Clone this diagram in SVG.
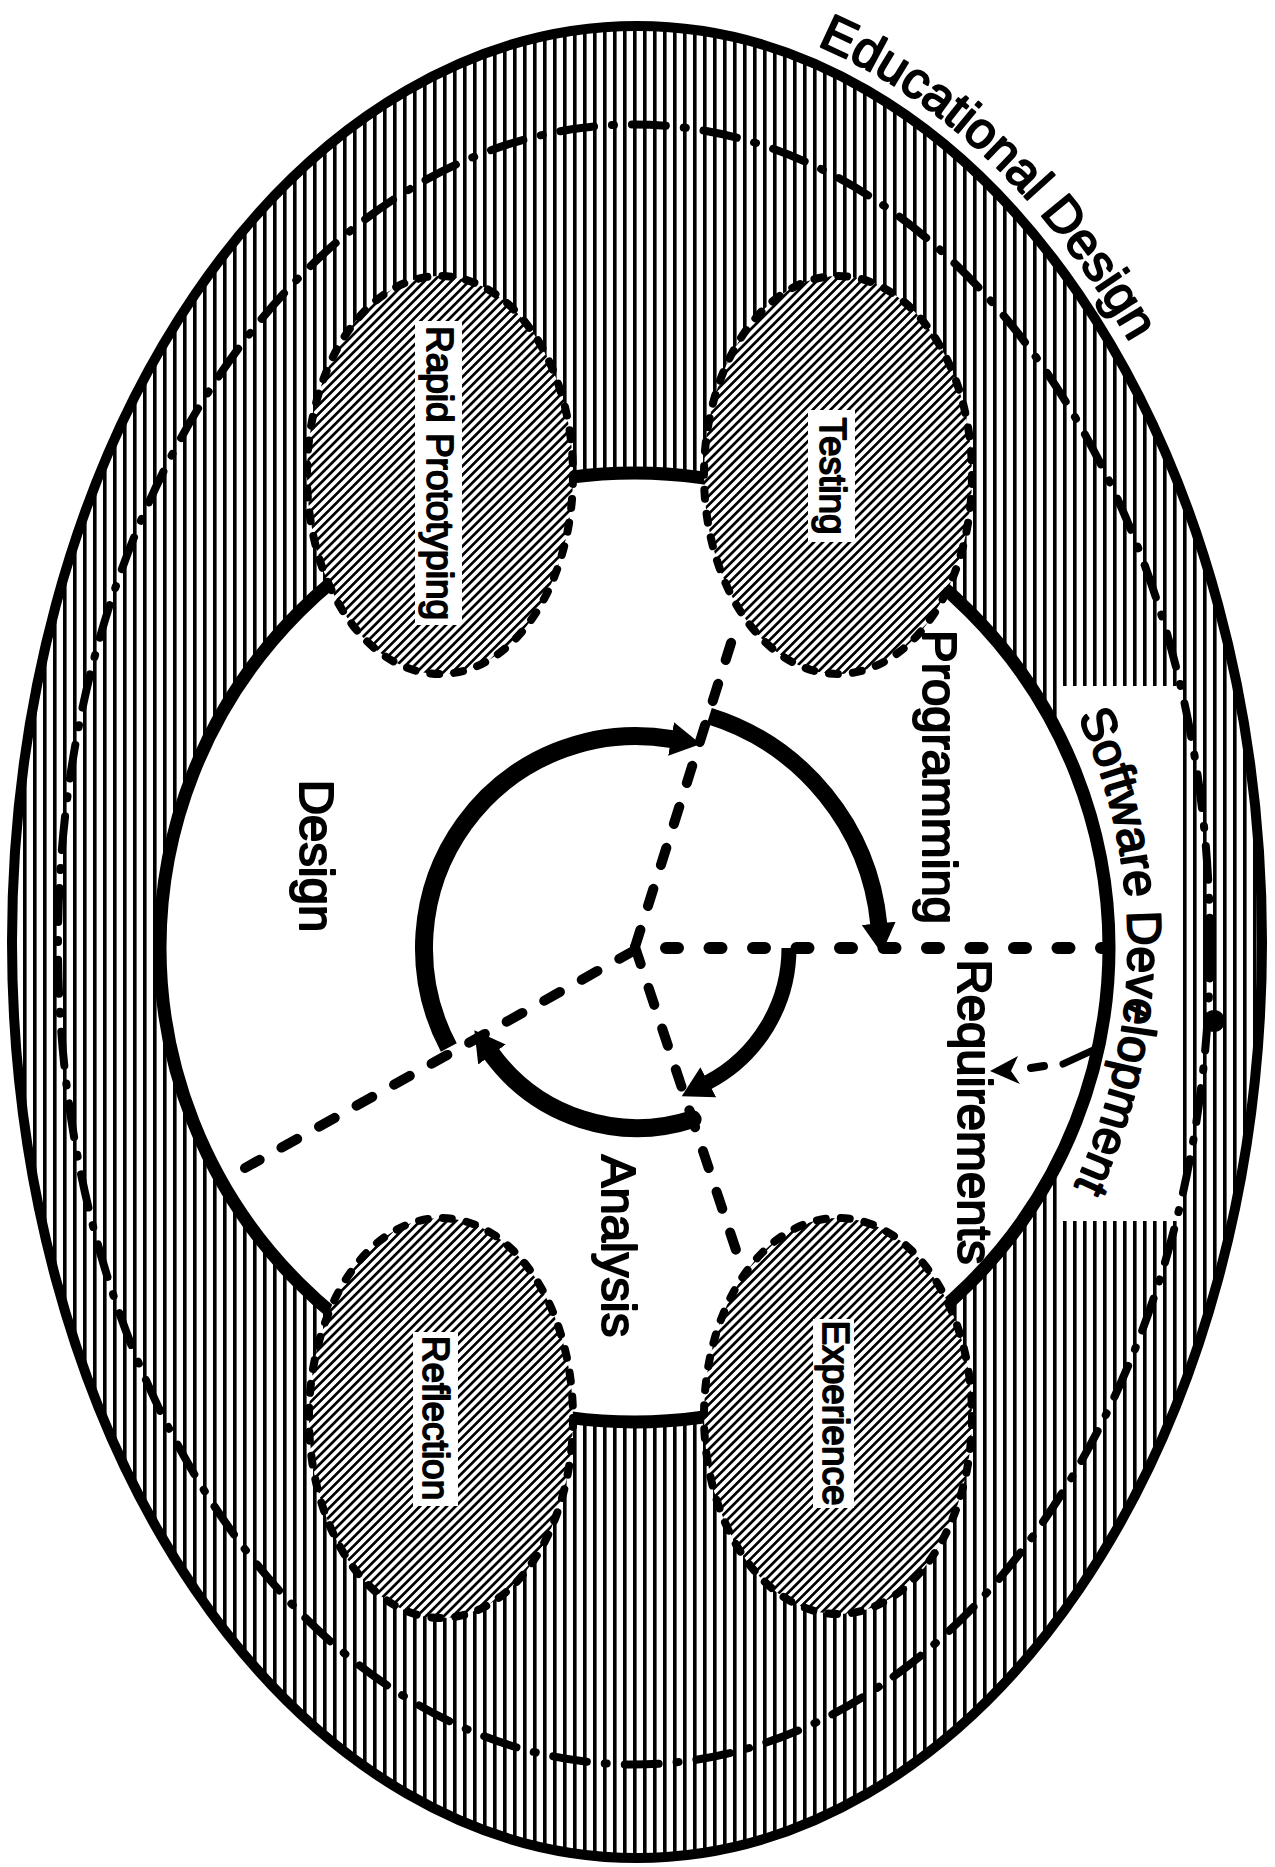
<svg xmlns="http://www.w3.org/2000/svg" width="1275" height="1867" viewBox="0 0 1275 1867">
<defs>
<style>
 .t{font-family:'Liberation Sans',Arial,Helvetica,sans-serif;fill:#000;stroke:#000;stroke-linejoin:round}
 .big{font-size:49px;stroke-width:2}
 .nl{font-size:37px;stroke-width:1.8}
 .node{fill:url(#dl);stroke:#000;stroke-width:8;stroke-dasharray:9 15;stroke-linecap:round}
 .box{fill:#fff}
 .rad{fill:none;stroke:#000;stroke-width:10;stroke-linecap:round;stroke-dasharray:18 25}
 .dots{fill:none;stroke:#000;stroke-width:12;stroke-linecap:round;stroke-dasharray:12 31.5}
 .arc{fill:none;stroke:#000;marker-end:url(#ah)}
 .ln{fill:none;stroke:#000;stroke-linecap:round}
</style>
<pattern id="vl" patternUnits="userSpaceOnUse" width="10" height="10"><rect width="10" height="10" fill="#fff"/><rect x="3" width="3.6" height="10" fill="#000"/></pattern>
<pattern id="dl" patternUnits="userSpaceOnUse" width="6.3" height="6.3" patternTransform="rotate(45)"><rect width="6.3" height="6.3" fill="#fff"/><rect width="2.7" height="6.3" fill="#000"/></pattern>
<marker id="ah" markerUnits="userSpaceOnUse" viewBox="0 0 32 40" markerWidth="32" markerHeight="40" refX="1" refY="20" orient="auto"><path d="M0,3 L30,20 L0,37 Z" fill="#000"/></marker>
<path id="sdPath" d="M570,389 A558,558 0 0 1 1128,947 A558,558 0 0 1 570,1505" fill="none"/>
<path id="edPath" d="M637,8 A643,934 0 0 1 1280,942" fill="none"/>
</defs>
<rect width="1275" height="1867" fill="#fff"/>

<g id="educational-design">
 <ellipse cx="637" cy="942" rx="625" ry="916" fill="url(#vl)" stroke="#000" stroke-width="10"/>
 <rect class="box" x="1060" y="686" width="120" height="535"/>
 <ellipse cx="634" cy="944.5" rx="576" ry="820" fill="none" stroke="#000" stroke-width="8" stroke-linecap="round" stroke-dasharray="34 18 2 18"/>
 <circle cx="1214" cy="1021" r="11" fill="#000"/>
 <text class="t" font-size="51" stroke-width="2"><textPath href="#edPath" startOffset="185">Educational Design</textPath></text>
</g>

<g id="software-development">
 <ellipse cx="634.5" cy="947.5" rx="474.5" ry="474.5" fill="#fff" stroke="#000" stroke-width="13"/>
 <text class="t" font-size="48" stroke-width="2"><textPath href="#sdPath" startOffset="881" text-anchor="middle">Software Development</textPath></text>
</g>

<g id="node-rapid-prototyping">
 <ellipse class="node" cx="440" cy="475" rx="133" ry="199"/>
 <rect class="box" x="415" y="321" width="47" height="304"/>
 <text class="t nl" transform="translate(427,473) rotate(90)" text-anchor="middle">Rapid Prototyping</text>
</g>
<g id="node-testing">
 <ellipse class="node" cx="838" cy="475" rx="134" ry="199"/>
 <rect class="box" x="808" y="410" width="47" height="132"/>
 <text class="t nl" transform="translate(820,476) rotate(90)" text-anchor="middle">Testing</text>
</g>
<g id="node-reflection">
 <ellipse class="node" cx="441" cy="1418" rx="132" ry="200"/>
 <rect class="box" x="413" y="1332" width="45" height="174"/>
 <text class="t nl" transform="translate(423,1418) rotate(90)" text-anchor="middle">Reflection</text>
</g>
<g id="node-experience">
 <ellipse class="node" cx="838" cy="1416" rx="134" ry="198"/>
 <rect class="box" x="813" y="1319" width="41" height="189"/>
 <text class="t nl" transform="translate(823,1413) rotate(90)" text-anchor="middle">Experience</text>
</g>

<g id="connectors">
 <path class="rad" d="M635,947 L732,640"/>
 <path class="rad" d="M635,947 L740,1262"/>
 <path class="rad" d="M635,950 L245,1168"/>
 <path class="dots" d="M666,948 L1106,948"/>
 <path class="arc" stroke-width="18" d="M448.8,1047.5 A212,212 0 0 1 672.1,739.1"/>
 <path class="arc" stroke-width="17" d="M709.3,716 A243,243 0 0 1 878.8,924.3"/>
 <path class="arc" stroke-width="15" d="M789,948 A152,152 0 0 1 707.4,1082.7"/>
 <path class="arc" stroke-width="18" stroke-linecap="round" d="M692.6,1119.2 A180,180 0 0 1 491.4,1053.8"/>
 <path class="ln" stroke-width="7" d="M1100,1047 L1063,1064"/>
 <path class="ln" stroke-width="8" d="M1031,1068 L1044,1066"/>
 <path d="M990,1071 L1018,1056 L1011,1071 L1020,1084 Z" fill="#000"/>
 <path class="ln" stroke-width="5" d="M1127,1006 L1148,1016"/>
</g>

<g id="phase-labels">
 <text class="t big" transform="translate(300,856) rotate(90)" text-anchor="middle">Design</text>
 <text class="t big" transform="translate(923,777) rotate(90)" text-anchor="middle">Programming</text>
 <text class="t big" transform="translate(958,1112) rotate(90)" text-anchor="middle">Requirements</text>
 <text class="t big" transform="translate(602,1246) rotate(90)" text-anchor="middle">Analysis</text>
</g>
</svg>
